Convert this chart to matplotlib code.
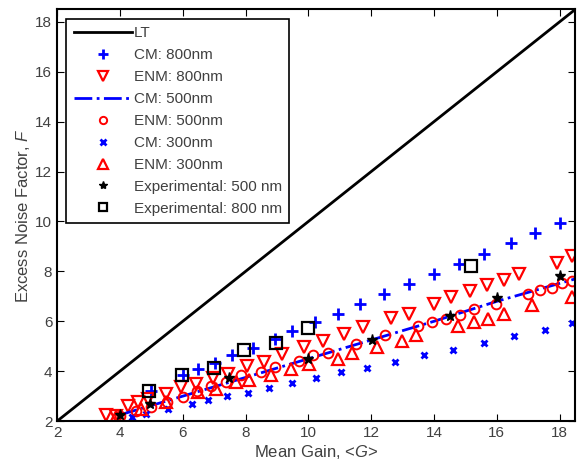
import numpy as np
import matplotlib
matplotlib.use('Agg')
import matplotlib.pyplot as plt

plt.rcParams['font.family'] = ['Liberation Sans', 'DejaVu Sans']
plt.rcParams['mathtext.fontset'] = 'custom'
plt.rcParams['mathtext.rm'] = 'Liberation Sans'
plt.rcParams['mathtext.it'] = 'Liberation Sans:italic'

# local theory
lt_x = [2, 18.5]
lt_y = [2, 18.5]

# CM 800nm
cm800_x = [5.0, 6.0, 6.5, 7.03, 7.58, 8.23, 8.93, 9.48, 10.2, 10.93, 11.64, 12.41,
           13.22, 13.99, 14.8, 15.6, 16.44, 17.23, 18.0]
cm800_y = [3.2, 3.84, 4.07, 4.33, 4.64, 4.93, 5.3, 5.6, 5.97, 6.3, 6.7, 7.08,
           7.48, 7.88, 8.31, 8.7, 9.13, 9.53, 9.93]

# ENM 800nm
enm800_x = [3.55, 3.87, 4.26, 4.57, 4.89, 5.47, 5.95, 6.42, 6.95, 7.45, 8.05, 8.58,
            9.16, 9.85, 10.48, 11.15, 11.75, 12.62, 13.2, 13.99, 14.54, 15.15,
            15.68, 16.23, 16.7, 17.92, 18.4]
enm800_y = [2.24, 2.2, 2.6, 2.77, 2.87, 3.1, 3.37, 3.5, 3.73, 3.9, 4.2, 4.35,
            4.68, 4.97, 5.21, 5.48, 5.77, 6.13, 6.3, 6.7, 6.97, 7.21,
            7.44, 7.67, 7.88, 8.33, 8.6]

# CM 500nm
cm500_x = [4.0, 6.0, 8.0, 10.0, 12.0, 14.0, 16.0, 18.5]
cm500_y = [2.25, 3.0, 3.75, 4.5, 5.25, 6.0, 6.8, 7.7]

# ENM 500nm
enm500_x = [4.0, 4.5, 5.0, 5.5, 6.0, 6.45, 6.9, 7.37, 7.85, 8.48, 8.95, 9.71,
            10.16, 10.62, 11.53, 12.43, 13.5, 13.93, 14.38, 14.84, 15.26, 15.97,
            17.0, 17.39, 17.76, 18.07, 18.4]
enm500_y = [2.2, 2.4, 2.55, 2.75, 2.95, 3.2, 3.4, 3.57, 3.84, 3.97, 4.17, 4.4,
            4.64, 4.73, 5.1, 5.44, 5.8, 5.97, 6.1, 6.27, 6.48, 6.68,
            7.08, 7.24, 7.35, 7.53, 7.6]

# CM 300nm
cm300_x = [4.39, 4.84, 5.52, 6.28, 6.82, 7.42, 8.09, 8.76, 9.48, 10.25, 11.04,
           11.88, 12.75, 13.68, 14.62, 15.58, 16.55, 17.53, 18.4]
cm300_y = [2.17, 2.28, 2.48, 2.67, 2.84, 3.01, 3.13, 3.33, 3.51, 3.71, 3.95,
           4.13, 4.37, 4.64, 4.84, 5.13, 5.4, 5.64, 5.95]

# ENM 300nm
enm300_x = [3.89, 4.68, 5.47, 6.5, 7.05, 7.69, 8.1, 8.8, 9.46, 10.03, 10.96, 11.4,
            12.2, 12.98, 13.43, 14.75, 15.26, 15.72, 16.23, 17.13, 18.4]
enm300_y = [2.17, 2.47, 2.77, 3.17, 3.3, 3.57, 3.64, 3.85, 4.1, 4.3, 4.5, 4.73,
            4.97, 5.21, 5.44, 5.8, 5.97, 6.1, 6.3, 6.64, 6.97]

# experimental
exp500_x = [4.0, 4.96, 7.47, 10.0, 12.04, 14.5, 16.0, 18.0]
exp500_y = [2.24, 2.67, 3.73, 4.5, 5.24, 6.2, 6.93, 7.8]
exp800_x = [4.94, 5.98, 6.98, 7.95, 8.97, 10.0, 15.17]
exp800_y = [3.21, 3.84, 4.13, 4.84, 5.15, 5.73, 8.21]

fig = plt.figure(figsize=(5.77, 4.70), dpi=100)
ax = fig.add_axes([0.099, 0.104, 0.898, 0.876])

ax.plot(lt_x, lt_y, 'k-', lw=2, label='LT')
ax.plot(cm800_x, cm800_y, 'b+', ms=9, mew=2, ls='none', label='CM: 800nm')
ax.plot(enm800_x, enm800_y, 'rv', ms=9, mfc='none', mew=1.6, ls='none', label='ENM: 800nm')
ax.plot(cm500_x, cm500_y, 'b-.', lw=2, label='CM: 500nm')
ax.plot(enm500_x, enm500_y, 'ro', ms=7, mfc='none', mew=1.4, ls='none', label='ENM: 500nm')
ax.plot(cm300_x, cm300_y, 'bx', ms=5, mew=2, ls='none', label='CM: 300nm')
ax.plot(enm300_x, enm300_y, 'r^', ms=9, mfc='none', mew=1.6, ls='none', label='ENM: 300nm')
ax.plot(exp500_x, exp500_y, 'k*', ms=8, ls='none', label='Experimental: 500 nm')
ax.plot(exp800_x, exp800_y, 'ks', ms=8, mfc='none', mew=1.6, ls='none', label='Experimental: 800 nm')

ax.set_xlim(2, 18.5)
ax.set_ylim(2, 18.5)
ax.set_xticks(np.arange(2, 19, 2))
ax.set_yticks(np.arange(2, 19, 2))
ax.tick_params(direction='in', top=True, right=True, labelsize=11,
               labelcolor='#404040', length=5)
for s in ax.spines.values():
    s.set_linewidth(1.5)

ax.set_xlabel('Mean Gain, <$\\it{G}$>', fontsize=12, color='#404040', labelpad=2)
ax.set_ylabel('Excess Noise Factor, $\\it{F}$', fontsize=12, color='#404040', labelpad=2)

leg = ax.legend(loc='upper left', fontsize=11, fancybox=False, edgecolor='k',
                framealpha=1, borderaxespad=0.6, handlelength=3.8, labelspacing=0.52,
                borderpad=0.5, handletextpad=0.1, markerscale=0.75)
leg.get_frame().set_linewidth(1.2)
for t in leg.get_texts():
    t.set_color('#404040')

fig.savefig('out.png', dpi=100)
